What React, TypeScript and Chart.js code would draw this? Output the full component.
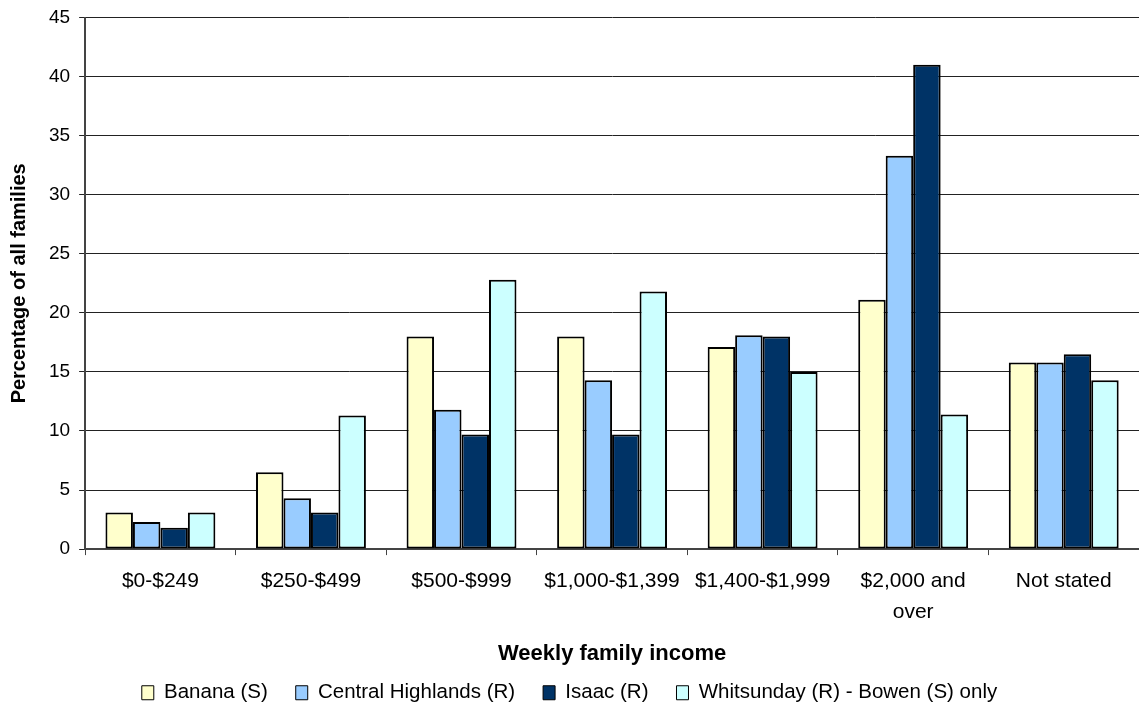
import React, { useEffect, useRef } from "react";
import { Chart, registerables } from "chart.js";

Chart.register(...registerables);

const categories: (string | string[])[] = [
  "$0-$249",
  "$250-$499",
  "$500-$999",
  "$1,000-$1,399",
  "$1,400-$1,999",
  ["$2,000 and", "over"],
  "Not stated",
];

const banana = [3.1, 6.5, 18.0, 18.0, 17.1, 21.1, 15.8];
const centralHighlands = [2.3, 4.3, 11.8, 14.3, 18.1, 33.3, 15.8];
const isaac = [1.8, 3.1, 9.7, 9.7, 18.0, 41.0, 16.5];
const whitsunday = [3.1, 11.3, 22.8, 21.8, 15.0, 11.4, 14.3];

const seriesNames = [
  "Banana (S)",
  "Central Highlands (R)",
  "Isaac (R)",
  "Whitsunday (R) - Bowen (S) only",
];
const seriesColors = ["#FFFFCC", "#99CCFF", "#003366", "#CCFFFF"];

const FONT = "'Liberation Sans', Arial, sans-serif";

export default function App() {
  const ref = useRef<HTMLCanvasElement | null>(null);

  useEffect(() => {
    if (!ref.current) return;
    const values = [banana, centralHighlands, isaac, whitsunday];
    const chart = new Chart(ref.current, {
      type: "bar",
      data: {
        labels: categories,
        datasets: values.map((v, i) => ({
          label: seriesNames[i],
          data: v,
          backgroundColor: seriesColors[i],
          borderColor: "#000000",
          borderWidth: 2,
          borderSkipped: false,
          categoryPercentage: 0.73,
          barPercentage: 1.0,
        })),
      },
      options: {
        animation: false,
        responsive: true,
        maintainAspectRatio: false,
        layout: { padding: { top: 0, right: 0, left: 0, bottom: 15 } },
        plugins: {
          tooltip: { enabled: false },
          legend: {
            position: "bottom",
            labels: {
              font: { family: FONT, size: 20.5, lineHeight: 1.0 },
              color: "#000",
              boxWidth: 12,
              boxHeight: 14,
              padding: 28,
              generateLabels: (c: any) =>
                Chart.defaults.plugins.legend.labels
                  .generateLabels(c)
                  .map((l: any) => ({ ...l, lineWidth: 1 })),
            },
          },
        },
        scales: {
          x: {
            grid: {
              drawOnChartArea: false,
              drawTicks: true,
              tickLength: 6,
              color: "#444",
            },
            border: { color: "#444", width: 2 },
            ticks: {
              font: { family: FONT, size: 21, lineHeight: 1.5 },
              color: "#000",
              maxRotation: 0,
              autoSkip: false,
              padding: 10,
            },
            title: {
              display: true,
              text: "Weekly family income",
              font: { family: FONT, size: 22, weight: "bold" },
              color: "#000",
              padding: { top: 3, bottom: -13 },
            },
          },
          y: {
            min: 0,
            max: 45,
            ticks: {
              stepSize: 5,
              font: { family: FONT, size: 19, lineHeight: 0.9 },
              color: "#000",
              padding: 9,
            },
            grid: {
              color: "#222",
              lineWidth: 1,
              tickLength: 6,
            },
            border: { color: "#444", width: 2 },
            title: {
              display: true,
              text: "Percentage of all families",
              font: { family: FONT, size: 20, weight: "bold" },
              color: "#000",
              padding: { top: 7, bottom: 9 },
            },
          },
        },
      },
    });
    return () => chart.destroy();
  }, []);

  return (
    <div
      style={{
        position: "absolute",
        left: 0,
        top: 0,
        width: 1139,
        height: 728,
        background: "#fff",
      }}
    >
      <canvas ref={ref} />
    </div>
  );
}
